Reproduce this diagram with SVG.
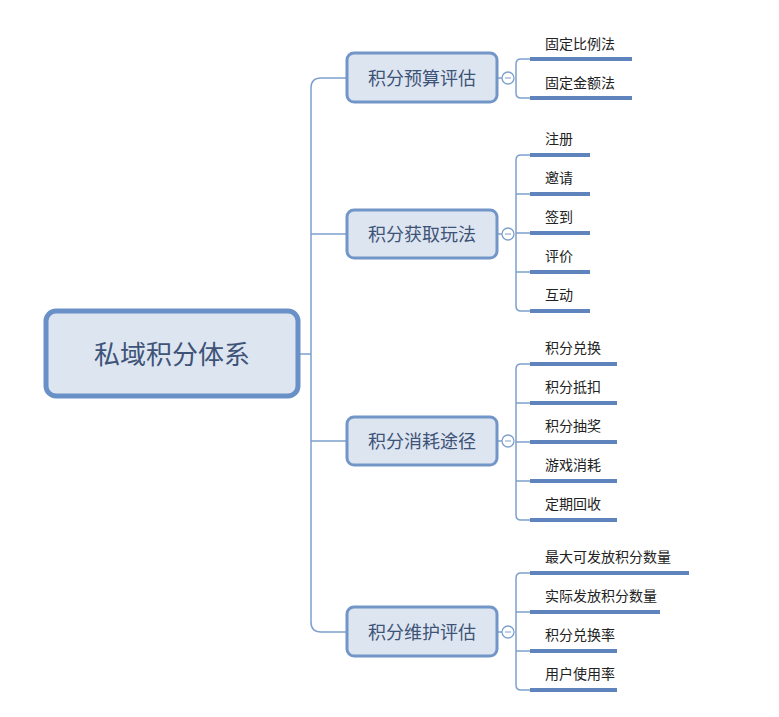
<svg xmlns="http://www.w3.org/2000/svg" width="779" height="717" viewBox="0 0 779 717">
<style>
.t{font-family:"Noto Sans CJK SC","Liberation Sans",sans-serif;fill:#222}
.l{font-size:14px}
.b{fill:#dde5f0;stroke:#7396c8;stroke-width:3}
.bt{font-size:18px;fill:#3d5377;text-anchor:middle}
.c{fill:none;stroke:#7ea0cc;stroke-width:1.5}
.u{stroke:#5f84bd;stroke-width:4}
.o{fill:#fff;stroke:#7ea0cc;stroke-width:1.3}
</style>
<rect width="779" height="717" fill="#fff"/>
<g id="connectors">
<path class="c" d="M298 354H311M347 78H321Q311 78 311 88V622Q311 632 321 632H347M311 234H347M311 441H347"/>
<path class="c" d="M497 78H502M497 234H502M497 441H502M497 632H502"/>
<path class="c" d="M530 59H521Q516 59 516 64V93Q516 98 521 98H530"/>
<path class="c" d="M530 155H521Q516 155 516 160V306Q516 311 521 311H530M516 194H530M516 233H530M516 272H530"/>
<path class="c" d="M530 364H521Q516 364 516 369V515Q516 520 521 520H530M516 403H530M516 442H530M516 481H530"/>
<path class="c" d="M530 573H521Q516 573 516 578V685Q516 690 521 690H530M516 612H530M516 651H530"/>
<circle class="o" cx="508" cy="78" r="6"/><circle class="o" cx="508" cy="234" r="6"/><circle class="o" cx="508" cy="441" r="6"/><circle class="o" cx="508" cy="632" r="6"/>
<path d="M505 78h6M505 234h6M505 441h6M505 632h6" stroke="#7ea0cc" stroke-width="1"/>
</g>
<g id="root"><rect x="46" y="311" width="252" height="85" rx="10" fill="#dde5f0" stroke="#6a90c8" stroke-width="5"/><text class="t" x="172" y="364" font-size="26" fill="#3d5377" text-anchor="middle" style="fill:#3d5377">私域积分体系</text></g>
<g id="n1"><rect class="b" x="347" y="53" width="150" height="49" rx="7"/><text class="t bt" x="422" y="85">积分预算评估</text></g>
<g id="n2"><rect class="b" x="347" y="210" width="150" height="48" rx="7"/><text class="t bt" x="422" y="241">积分获取玩法</text></g>
<g id="n3"><rect class="b" x="347" y="417" width="150" height="48" rx="7"/><text class="t bt" x="422" y="448">积分消耗途径</text></g>
<g id="n4"><rect class="b" x="347" y="607" width="150" height="49" rx="7"/><text class="t bt" x="422" y="639">积分维护评估</text></g>
<g id="leaves">
<g id="l1"><text class="t l" x="545" y="49">固定比例法</text><line class="u" x1="530" y1="59" x2="632" y2="59"/></g>
<g id="l2"><text class="t l" x="545" y="88">固定金额法</text><line class="u" x1="530" y1="98" x2="632" y2="98"/></g>
<g id="l3"><text class="t l" x="545" y="144">注册</text><line class="u" x1="530" y1="155" x2="590" y2="155"/></g>
<g id="l4"><text class="t l" x="545" y="183">邀请</text><line class="u" x1="530" y1="194" x2="590" y2="194"/></g>
<g id="l5"><text class="t l" x="545" y="222">签到</text><line class="u" x1="530" y1="233" x2="590" y2="233"/></g>
<g id="l6"><text class="t l" x="545" y="261">评价</text><line class="u" x1="530" y1="272" x2="590" y2="272"/></g>
<g id="l7"><text class="t l" x="545" y="300">互动</text><line class="u" x1="530" y1="311" x2="590" y2="311"/></g>
<g id="l8"><text class="t l" x="545" y="353">积分兑换</text><line class="u" x1="530" y1="364" x2="617" y2="364"/></g>
<g id="l9"><text class="t l" x="545" y="392">积分抵扣</text><line class="u" x1="530" y1="403" x2="617" y2="403"/></g>
<g id="l10"><text class="t l" x="545" y="431">积分抽奖</text><line class="u" x1="530" y1="442" x2="617" y2="442"/></g>
<g id="l11"><text class="t l" x="545" y="470">游戏消耗</text><line class="u" x1="530" y1="481" x2="617" y2="481"/></g>
<g id="l12"><text class="t l" x="545" y="509">定期回收</text><line class="u" x1="530" y1="520" x2="617" y2="520"/></g>
<g id="l13"><text class="t l" x="545" y="562">最大可发放积分数量</text><line class="u" x1="530" y1="573" x2="689" y2="573"/></g>
<g id="l14"><text class="t l" x="545" y="601">实际发放积分数量</text><line class="u" x1="530" y1="612" x2="660" y2="612"/></g>
<g id="l15"><text class="t l" x="545" y="640">积分兑换率</text><line class="u" x1="530" y1="651" x2="617" y2="651"/></g>
<g id="l16"><text class="t l" x="545" y="679">用户使用率</text><line class="u" x1="530" y1="690" x2="617" y2="690"/></g>
</g>
</svg>
